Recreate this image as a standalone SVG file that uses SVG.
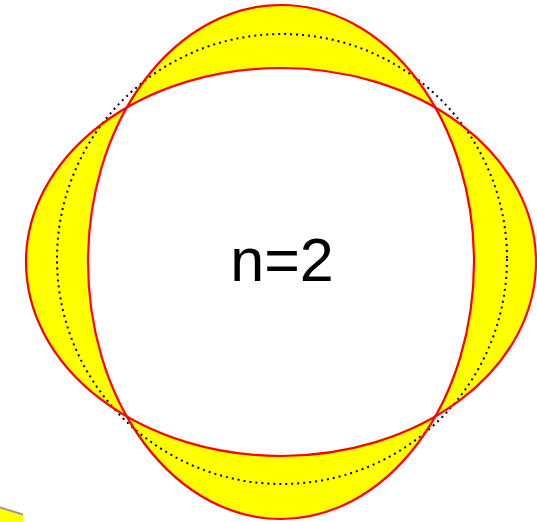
<svg xmlns="http://www.w3.org/2000/svg" width="537" height="522" viewBox="0 0 537 522">
  <style>
    .lobe { fill: #FFFF00; stroke: none; }
    .edge { fill: none; stroke: #FF0000; stroke-width: 2.2; }
    .rest { fill: none; stroke: #000000; stroke-width: 2; stroke-dasharray: 2 4; }
    .label { font-family: "Liberation Sans", Arial, sans-serif; font-size: 61px; fill: #000000; }
  </style>
  <defs>
    <clipPath id="tallClip">
      <ellipse cx="281" cy="262" rx="193" ry="257"/>
    </clipPath>
  </defs>
  <rect x="0" y="0" width="537" height="522" fill="#FFFFFF"/>
  <g id="corner-fragment">
    <polygon points="0,508 23,515 23,522 0,522" fill="#FFFF00"/>
    <line x1="0" y1="507.5" x2="23" y2="514.5" stroke="#9A9A9A" stroke-width="2"/>
  </g>
  <g id="ring-mode">
    <ellipse class="lobe" cx="281" cy="262" rx="193" ry="257"/>
    <ellipse class="lobe" cx="281" cy="262" rx="255" ry="194"/>
    <ellipse cx="281" cy="262" rx="255" ry="194" fill="#FFFFFF" clip-path="url(#tallClip)"/>
  </g>
  <g id="rest-circle">
    <circle class="rest" cx="282" cy="259" r="225"/>
  </g>
  <g id="connectors">
    <ellipse id="tall-shape" class="edge" cx="281" cy="262" rx="193" ry="257"/>
    <ellipse id="wide-shape" class="edge" cx="281" cy="262" rx="255" ry="194"/>
  </g>
  <g id="label-node">
    <text class="label" x="282" y="281" text-anchor="middle">n=2</text>
  </g>
</svg>
